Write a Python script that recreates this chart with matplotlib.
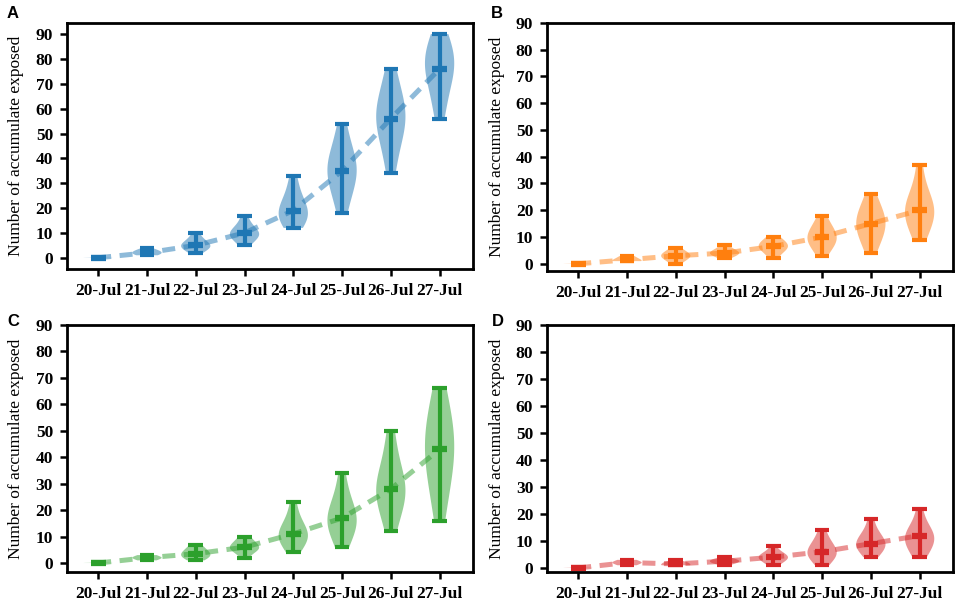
import matplotlib.pyplot as plt
import numpy as np

plt.rcParams['font.family'] = 'Liberation Serif'

dates = ['20-Jul', '21-Jul', '22-Jul', '23-Jul', '24-Jul', '25-Jul', '26-Jul', '27-Jul']

# simulated accumulate exposed per day
samples_a = [
    [0, 0, 0, 0, 0, 0, 0, 0, 0, 0, 0.3],
    [1, 1, 1, 2, 2, 2, 2, 3, 3, 3, 4],
    [2, 3, 4, 4, 5, 5, 5, 6, 7, 8, 10],
    [5, 7, 8, 9, 9, 10, 10, 11, 12, 14, 17],
    [12, 14, 15, 16, 18, 19, 20, 22, 24, 28, 33],
    [18, 24, 28, 32, 34, 35, 37, 39, 42, 47, 54],
    [34, 42, 48, 52, 55, 56, 58, 61, 64, 69, 76],
    [56, 62, 68, 72, 75, 76, 79, 81, 84, 87, 90],
]
samples_b = [
    [0, 0, 0, 0, 0, 0, 0, 0, 0, 0, 0.3],
    [1, 1, 1, 1, 1, 2, 2, 2, 3, 3],
    [0, 1, 2, 2, 3, 3, 3, 4, 4, 5, 6],
    [2, 3, 3, 4, 4, 4, 4, 5, 5, 6, 7],
    [2, 4, 5, 6, 6, 7, 7, 8, 9, 10],
    [3, 6, 7, 8, 9, 10, 11, 12, 13, 15, 18],
    [4, 8, 10, 12, 14, 15, 16, 18, 20, 22, 26],
    [9, 13, 15, 17, 19, 20, 21, 23, 25, 29, 37],
]
samples_c = [
    [0, 0, 0, 0, 0, 0, 0, 0, 0, 0, 0.3],
    [1, 1, 1, 2, 2, 2, 2, 2, 3, 3, 3],
    [1, 2, 2, 3, 3, 4, 4, 5, 6, 7],
    [2, 4, 5, 5, 6, 6, 6, 7, 8, 9, 10],
    [4, 7, 8, 9, 10, 11, 12, 13, 15, 18, 23],
    [6, 10, 12, 14, 16, 17, 18, 20, 23, 27, 34],
    [12, 18, 22, 25, 27, 28, 29, 32, 36, 42, 50],
    [16, 25, 31, 36, 40, 43, 46, 50, 54, 59, 66],
]
samples_d = [
    [0, 0, 0, 0, 0, 0, 0, 0, 0, 0, 0.3],
    [1, 1, 1, 2, 2, 2, 2, 2, 3, 3, 3],
    [1, 1, 1, 1, 1, 2, 2, 2, 2, 3],
    [1, 2, 2, 2, 2, 3, 3, 3, 3, 4],
    [1, 2, 3, 3, 4, 4, 4, 5, 5, 6, 8],
    [1, 3, 4, 5, 5, 6, 7, 8, 9, 11, 14],
    [4, 6, 7, 8, 8, 9, 10, 11, 12, 14, 18],
    [4, 6, 8, 9, 10, 12, 12, 13, 14, 17, 22],
]

panels = [
    ('A', samples_a, '#1f77b4', (-4.5, 94.5)),
    ('B', samples_b, '#ff7f0e', (-2.6, 90)),
    ('C', samples_c, '#2ca02c', (-3.4, 90)),
    ('D', samples_d, '#d62728', (-1.5, 90)),
]

boxes = [
    [0.070, 0.554, 0.424, 0.408],
    [0.5716, 0.551, 0.424, 0.411],
    [0.070, 0.0514, 0.424, 0.4096],
    [0.5716, 0.0514, 0.424, 0.4096],
]
letter_pos = [(13, 14), (497, 14), (13, 322), (498, 322)]

fig = plt.figure(figsize=(9.57, 6.03), dpi=100)
pos = np.arange(1, len(dates) + 1)

for (letter, samples, color, ylim), box, lp in zip(panels, boxes, letter_pos):
    ax = fig.add_axes(box)
    vp = ax.violinplot(samples, positions=pos, widths=0.6, showmedians=True,
                       bw_method=0.75)
    for body in vp['bodies']:
        body.set_facecolor(color)
        body.set_edgecolor('none')
        body.set_alpha(0.5)
    for key in ['cmins', 'cmaxes', 'cbars']:
        vp[key].set_color(color)
        vp[key].set_linewidth(3)
    vp['cmedians'].set_color(color)
    vp['cmedians'].set_linewidth(4.5)

    med = [np.median(s) for s in samples]
    ax.plot(pos, med, color=color, alpha=0.5, lw=3.6, linestyle=(0, (2.6, 1.7)))

    ax.set_xticks(pos)
    ax.set_xticklabels(dates)
    ax.set_yticks(np.arange(0, 91, 10))
    ax.set_xlim(0.36, 8.68)
    ax.set_ylim(*ylim)
    ax.set_ylabel('Number of accumulate exposed', fontsize=12.5, labelpad=8)
    for sp in ax.spines.values():
        sp.set_linewidth(2)
    ax.tick_params(width=1.8, length=5, labelsize=12.5, pad=5)
    for t in ax.get_xticklabels() + ax.get_yticklabels():
        t.set_fontweight('bold')

    fig.text(lp[0] / 957, 1 - lp[1] / 603, letter, fontsize=12, fontweight='bold',
             family='Liberation Sans', ha='center', va='center')

fig.savefig('out.png', dpi=100)
